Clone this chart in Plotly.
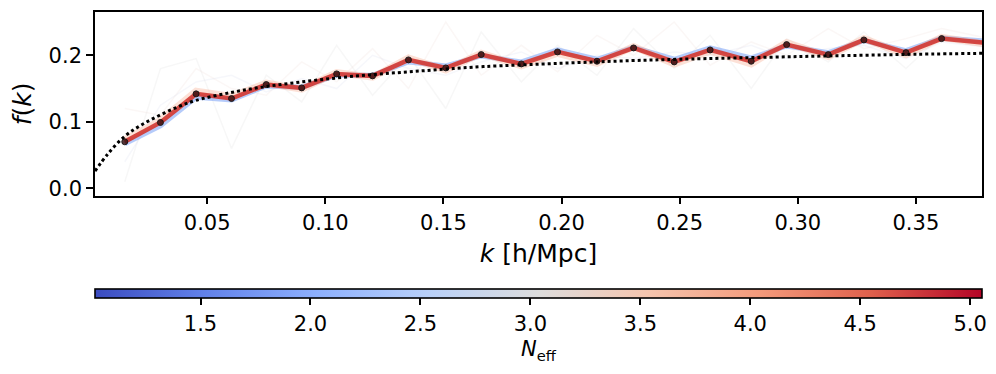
import plotly.graph_objects as go

# k bins [h/Mpc]
k = [0.0151, 0.0302, 0.0453, 0.0603, 0.0750, 0.0900, 0.1048, 0.1200,
     0.1352, 0.1510, 0.1660, 0.1830, 0.1983, 0.2150, 0.2305, 0.2477,
     0.2629, 0.2803, 0.2953, 0.3129, 0.3280, 0.3458, 0.3609, 0.3810]

# measured f(k) (black dots / top red line, N_eff ~ 5)
f_meas = [0.070, 0.099, 0.142, 0.135, 0.156, 0.151, 0.172, 0.169,
          0.193, 0.181, 0.201, 0.187, 0.205, 0.191, 0.211, 0.190,
          0.208, 0.191, 0.216, 0.201, 0.223, 0.204, 0.225, 0.218]

# lower N_eff runs (faint background lines)
f_blue = [0.067, 0.094, 0.137, 0.133, 0.154, 0.152, 0.170, 0.170,
          0.190, 0.184, 0.199, 0.190, 0.208, 0.194, 0.212, 0.194,
          0.211, 0.196, 0.214, 0.204, 0.222, 0.207, 0.226, 0.221]
f_orange = [0.073, 0.102, 0.146, 0.138, 0.158, 0.149, 0.174, 0.167,
            0.196, 0.178, 0.203, 0.184, 0.203, 0.188, 0.213, 0.187,
            0.206, 0.187, 0.219, 0.198, 0.225, 0.201, 0.227, 0.216]
f_faint1 = [0.010, 0.180, 0.195, 0.060, 0.170, 0.130, 0.215, 0.140,
            0.200, 0.120, 0.235, 0.160, 0.215, 0.170, 0.240, 0.180,
            0.230, 0.150, 0.225, 0.190, 0.235, 0.180, 0.230, 0.215]
f_faint2 = [0.120, 0.110, 0.180, 0.150, 0.140, 0.190, 0.160, 0.210,
            0.150, 0.250, 0.170, 0.215, 0.175, 0.230, 0.200, 0.250,
            0.185, 0.220, 0.200, 0.240, 0.210, 0.225, 0.240, 0.225]
f_faint3 = [0.040, 0.125, 0.160, 0.170, 0.145, 0.165, 0.150, 0.200,
            0.180, 0.170, 0.190, 0.205, 0.180, 0.200, 0.195, 0.205,
            0.200, 0.215, 0.195, 0.210, 0.215, 0.195, 0.220, 0.212]

# linear theory curve (dotted)
k_theory = [0.0025, 0.008, 0.015, 0.022, 0.030, 0.038, 0.045, 0.060, 0.075,
            0.090, 0.105, 0.120, 0.135, 0.150, 0.167, 0.200, 0.230, 0.250,
            0.300, 0.350, 0.380]
f_theory = [0.026, 0.052, 0.078, 0.095, 0.110, 0.123, 0.132, 0.144, 0.153,
            0.160, 0.166, 0.171, 0.175, 0.179, 0.183, 0.188, 0.192, 0.194,
            0.198, 0.2015, 0.203]

neff_min, neff_max = 1.02, 5.054
cb_ticks = [1.5, 2.0, 2.5, 3.0, 3.5, 4.0, 4.5, 5.0]

coolwarm = [
    [0.0, "rgb(59,76,192)"], [0.125, "rgb(98,130,234)"],
    [0.25, "rgb(141,176,254)"], [0.375, "rgb(184,208,249)"],
    [0.5, "rgb(221,221,221)"], [0.625, "rgb(245,196,173)"],
    [0.75, "rgb(244,154,123)"], [0.875, "rgb(222,96,76)"],
    [1.0, "rgb(180,4,38)"],
]

FONT = "DejaVu Sans, sans-serif"
fig = go.Figure()

for ys, col in [(f_faint1, "rgba(200,200,200,0.14)"),
                (f_faint2, "rgba(230,200,190,0.14)"),
                (f_faint3, "rgba(190,200,230,0.14)")]:
    fig.add_trace(go.Scatter(x=k, y=ys, mode="lines",
                             line=dict(color=col, width=1.5),
                             hoverinfo="skip", showlegend=False))

fig.add_trace(go.Scatter(x=k, y=f_blue, mode="lines",
                         line=dict(color="rgba(120,160,245,0.55)", width=5),
                         showlegend=False))
fig.add_trace(go.Scatter(x=k, y=f_orange, mode="lines",
                         line=dict(color="rgba(245,170,140,0.35)", width=7),
                         showlegend=False))
fig.add_trace(go.Scatter(x=k, y=f_meas, mode="lines",
                         line=dict(color="rgba(210,55,50,0.9)", width=4.5),
                         showlegend=False))
fig.add_trace(go.Scatter(x=k, y=f_meas, mode="markers",
                         marker=dict(color="rgba(60,20,20,0.85)", size=6,
                                     line=dict(color="rgba(20,20,20,0.9)", width=1)),
                         showlegend=False))
fig.add_trace(go.Scatter(x=k_theory, y=f_theory, mode="lines",
                         line=dict(color="black", width=3, dash="dot", shape="spline"),
                         showlegend=False))

# colour bar for N_eff
fig.add_trace(go.Scatter(
    x=[None], y=[None], mode="markers", showlegend=False,
    marker=dict(color=[neff_min, neff_max], cmin=neff_min, cmax=neff_max,
                colorscale=coolwarm, showscale=True,
                colorbar=dict(
                    orientation="h", xref="paper", yref="container",
                    x=0.5, xanchor="center", y=1 - 288.5 / 374, yanchor="top",
                    len=1.0, lenmode="fraction", thickness=9,
                    xpad=0, ypad=0, outlinewidth=1.6, outlinecolor="black",
                    tickvals=cb_ticks, ticktext=[f"{t:.1f}" for t in cb_ticks],
                    ticks="outside", ticklen=7, tickwidth=1.6, tickcolor="black",
                    tickfont=dict(family=FONT, size=21, color="black"),
                    title=dict(text="<i>N</i><sub>eff</sub>", side="bottom",
                               font=dict(family=FONT, size=21, color="black")),
                ))))

fig.update_layout(
    width=996, height=374,
    margin=dict(l=95, r=14, t=12, b=76, autoexpand=False),
    plot_bgcolor="white", paper_bgcolor="white",
    font=dict(family=FONT, size=21, color="black"),
    xaxis=dict(range=[0.0025, 0.378], tickvals=[0.05, 0.10, 0.15, 0.20, 0.25, 0.30, 0.35],
               ticktext=["0.05", "0.10", "0.15", "0.20", "0.25", "0.30", "0.35"],
               showgrid=False, zeroline=False, showline=True, mirror=True,
               linecolor="black", linewidth=1.6, ticks="outside", ticklen=7,
               tickwidth=1.6, tickcolor="black", automargin=False,
               title=dict(text="<i>k</i> [h/Mpc]", standoff=11)),
    yaxis=dict(domain=[0.3577, 1.0], range=[-0.011, 0.265],
               tickvals=[0.0, 0.1, 0.2], ticktext=["0.0", "0.1", "0.2"],
               showgrid=False, zeroline=False, showline=True, mirror=True,
               linecolor="black", linewidth=1.6, ticks="outside", ticklen=7,
               tickwidth=1.6, tickcolor="black", automargin=False,
               title=dict(text="<i>f</i>(<i>k</i>)", standoff=10)),
)

fig.write_html("out.html", config={"displayModeBar": False},
               post_script="document.body.style.margin='0';")
